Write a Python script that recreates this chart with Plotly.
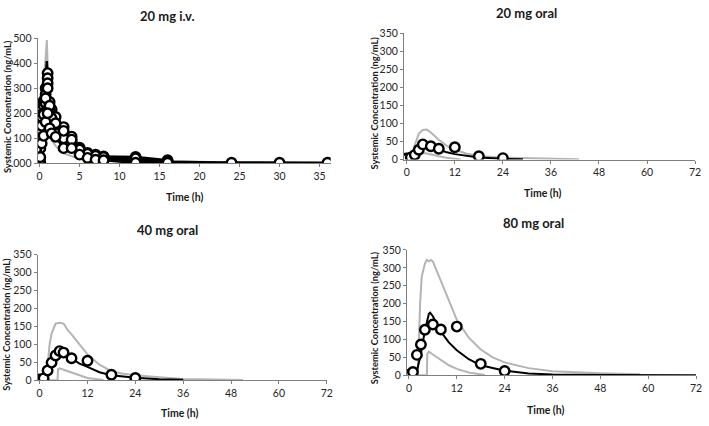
import plotly.graph_objects as go

# ---------------- DATA ----------------
# 20 mg i.v. observed individual profiles
iv_t = [0, 0.08, 0.25, 0.5, 0.75, 1, 1.25, 1.5, 2, 3, 4, 5, 6, 7, 8, 12, 16]
iv_s1 = [0, 150, 195, 250, 300, 360, 245, 215, 185, 145, 107, 63, 42, 35, 28, 26, 13]
iv_s2 = [0, 100, 185, 230, 275, 340, 210, 165, 145, 120, 87, 60, 35, 25, 20, 10, 5]
iv_s3 = [0, 60, 130, 200, 240, 320, 190, 150, 120, 100, 80, 50, 30, 20, 15, 5, 3]
iv_s5 = [0, 5, 150, 195, 260, 300, 230, 180, 160, 130, 95, 55, 38, 30, 25, 20, 8]
iv_t4 = [0, 0.08, 0.25, 0.5, 0.75, 1, 1.25, 1.5, 2, 3, 4, 5, 6, 7, 8, 12, 16, 24, 30, 36]
iv_s4 = [0, 25, 80, 110, 165, 200, 140, 120, 106, 61, 61, 35, 22, 15, 13, 3, 3, 3, 3, 3]
# 20 mg i.v. simulated median and percentiles
iv_pt = [0, 0.25, 0.5, 0.75, 0.9, 1.1, 1.5, 2, 3, 4, 6, 8, 12, 16, 24, 36]
iv_med = [0, 150, 250, 330, 408, 250, 190, 150, 110, 80, 45, 28, 14, 7, 3, 1]
iv_up = [0, 200, 330, 420, 492, 300, 210, 160, 115, 85, 50, 32, 18, 10, 4, 1]
iv_lo_t = [0, 0.25, 0.5, 0.9, 1.1, 1.4, 2, 3, 4.2, 6, 8.8, 12, 16]
iv_lo = [0, 50, 100, 180, 130, 98, 70, 40, 27, 20, 14, 8, 4]

# 20 mg oral
o20_t = [0, 1, 2, 3, 4, 6, 8, 12, 18, 24]
o20_obs = [3, 6, 13, 27, 42, 37, 30, 34, 9, 4]
o20_mt = [0, 1, 2, 3, 4, 5, 6, 8, 10, 12, 15, 18, 24, 29]
o20_med = [0, 3, 15, 32, 42, 40, 36, 28, 20, 15, 10, 6, 2, 0.5]
o20_ut = [0, 1, 2, 3, 4, 5, 6, 8, 10, 12, 15, 18, 24, 30, 36, 43]
o20_up = [0, 5, 40, 72, 82, 83, 75, 55, 38, 27, 16, 10, 5, 3, 1.5, 0.5]
o20_lt = [0, 1.9, 3, 4, 5, 6, 8, 10, 12, 13.5]
o20_lo = [0, 0, 12, 18, 17, 14, 9, 5, 2, 0]

# 40 mg oral
o40_t = [0, 1, 2, 3, 4, 5, 6, 8, 12, 18, 24]
o40_obs = [2, 5, 27, 49, 69, 81, 77, 61, 54, 15, 6]
o40_mt = [0, 1, 2, 3, 4, 5, 6, 7, 8, 10, 12, 15, 18, 21, 24, 30, 36]
o40_med = [0, 3, 22, 48, 70, 84, 78, 68, 60, 46, 37, 22, 14, 10, 7, 2.5, 1]
o40_ut = [0, 1.5, 2, 2.5, 3, 4, 5, 6, 6.5, 7, 8, 9, 10, 12, 15, 18, 21, 24, 27, 30, 36, 51]
o40_up = [0, 0, 40, 100, 130, 158, 160, 158, 150, 140, 128, 113, 100, 72, 43, 25, 18, 14, 10, 8, 3, 0.5]
o40_lt = [0, 4.5, 4.6, 5, 6, 7, 8, 10, 12, 14, 16]
o40_lo = [0, 0, 30, 33, 29, 25, 20, 12, 6, 3, 0.5]

# 80 mg oral
o80_t = [0, 1, 2, 3, 4, 6, 8, 12, 18, 24]
o80_obs = [2, 9, 57, 86, 127, 142, 128, 136, 32, 12]
o80_mt = [0, 1, 2, 3, 4, 5, 5.3, 6, 8, 10, 12, 15, 18, 24, 30, 36, 48, 72]
o80_med = [0, 1, 12, 60, 125, 172, 175, 165, 122, 92, 70, 45, 28, 13, 5, 2, 0.5, 0]
o80_ut = [0, 2.2, 2.8, 3.2, 4, 4.5, 5, 5.5, 6, 7, 8, 10, 12, 15, 18, 21, 24, 30, 36, 48, 58]
o80_up = [0, 0, 200, 275, 312, 322, 318, 322, 318, 290, 265, 210, 155, 105, 72, 50, 36, 20, 11, 6, 3]
o80_lt = [0, 4.5, 4.6, 5, 6, 8, 10, 12, 15, 19]
o80_lo = [0, 0, 60, 66, 58, 42, 28, 18, 8, 1]

titles = ["20 mg i.v.", "20 mg oral", "40 mg oral", "80 mg oral"]
ytitle = "Systemic Concentration (ng/mL)"
xtitle = "Time (h)"

# ---------------- FIGURE ----------------
W, H = 709, 426
GRAY = "#b4b4b4"
FONT = "Lato"

fig = go.Figure()


def px_x(p):
    return p / W


def px_y(p):
    return 1 - p / H


def add_line(x, y, ax, color, width):
    fig.add_trace(go.Scatter(x=x, y=y, mode="lines", xaxis=ax[0], yaxis=ax[1],
                             line=dict(color=color, width=width), showlegend=False,
                             hoverinfo="skip"))


def add_obs(x, y, ax, lines=False):
    fig.add_trace(go.Scatter(x=x, y=y, mode="lines+markers" if lines else "markers",
                             xaxis=ax[0], yaxis=ax[1],
                             line=dict(color="black", width=2.5),
                             marker=dict(size=9.5, color="white", line=dict(color="black", width=2.4)),
                             showlegend=False))


ax1, ax2, ax3, ax4 = ("x", "y"), ("x2", "y2"), ("x3", "y3"), ("x4", "y4")

# Panel 1
add_line(iv_pt, iv_up, ax1, GRAY, 2)
add_line(iv_lo_t, iv_lo, ax1, GRAY, 2)
add_line(iv_pt, iv_med, ax1, "black", 2.5)
for s in (iv_s1, iv_s2, iv_s3, iv_s5):
    add_obs(iv_t, s, ax1, lines=True)
add_obs(iv_t4, iv_s4, ax1, lines=True)

# Panel 2
add_line(o20_ut, o20_up, ax2, GRAY, 2)
add_line(o20_lt, o20_lo, ax2, GRAY, 2)
add_line(o20_mt, o20_med, ax2, "black", 2)
add_obs(o20_t, o20_obs, ax2)

# Panel 3
add_line(o40_ut, o40_up, ax3, GRAY, 2)
add_line(o40_lt, o40_lo, ax3, GRAY, 2)
add_line(o40_mt, o40_med, ax3, "black", 2)
add_obs(o40_t, o40_obs, ax3)

# Panel 4
add_line(o80_ut, o80_up, ax4, GRAY, 2)
add_line(o80_lt, o80_lo, ax4, GRAY, 2)
add_line(o80_mt, o80_med, ax4, "black", 2)
add_obs(o80_t, o80_obs, ax4)

tickfont = dict(family=FONT, size=10.5, color="#262626")
axcommon = dict(showgrid=False, zeroline=False, showline=True, linecolor="#7f7f7f",
                linewidth=1, ticks="outside", ticklen=3, tickcolor="#7f7f7f",
                tickfont=tickfont)

panels = [
    dict(xd=(37, 333), yd=(33, 162), xr=[-0.25, 36.4], xt=list(range(0, 36, 5)),
         yr=[0, 500], yt=list(range(0, 501, 100)), yl=["000", "100", "200", "300", "400", "500"]),
    dict(xd=(407, 701), yd=(28, 158), xr=[-0.7, 72], xt=list(range(0, 73, 12)),
         yr=[0, 350], yt=list(range(0, 351, 50)), yl=None),
    dict(xd=(37, 329), yd=(256, 385), xr=[-0.5, 72], xt=list(range(0, 73, 12)),
         yr=[0, 350], yt=list(range(0, 351, 50)), yl=None),
    dict(xd=(410, 702), yd=(251, 380), xr=[-0.5, 72], xt=list(range(0, 73, 12)),
         yr=[0, 350], yt=list(range(0, 351, 50)), yl=None),
]

layout = dict(width=W, height=H, margin=dict(l=0, r=0, t=0, b=0),
              paper_bgcolor="white", plot_bgcolor="white", showlegend=False)
for i, p in enumerate(panels):
    n = "" if i == 0 else str(i + 1)
    xa = dict(axcommon, domain=[px_x(p["xd"][0]), px_x(p["xd"][1])], range=p["xr"],
              tickvals=p["xt"], anchor="y" + n)
    ya = dict(axcommon, domain=[px_y(p["yd"][1]), px_y(p["yd"][0])], range=p["yr"],
              tickvals=p["yt"], anchor="x" + n)
    if p["yl"]:
        ya["ticktext"] = p["yl"]
    layout["xaxis" + n] = xa
    layout["yaxis" + n] = ya

fig.update_layout(**layout)

ann = []
title_pos = [(168, 10), (531, 7), (168, 230), (538, 223)]
xt_pos = [(185, 197), (547, 192), (180, 419), (550, 416)]
yt_pos = [(6, 103), (377, 100), (6, 327), (378, 321)]
for i in range(4):
    ann.append(dict(text="<b>%s</b>" % titles[i], x=px_x(title_pos[i][0]), y=px_y(title_pos[i][1]),
                    xref="paper", yref="paper", showarrow=False, xanchor="center", yanchor="middle",
                    font=dict(family=FONT, size=13, color="#1a1a1a")))
    ann.append(dict(text="<b>%s</b>" % xtitle, x=px_x(xt_pos[i][0]), y=px_y(xt_pos[i][1]),
                    xref="paper", yref="paper", showarrow=False, xanchor="center", yanchor="middle",
                    font=dict(family=FONT, size=10.5, color="#1a1a1a")))
    ann.append(dict(text="<b>%s</b>" % ytitle, x=px_x(yt_pos[i][0]), y=px_y(yt_pos[i][1]),
                    xref="paper", yref="paper", showarrow=False, xanchor="center", yanchor="middle",
                    textangle=-90, font=dict(family=FONT, size=9.3, color="#1a1a1a")))
fig.update_layout(annotations=ann)

fig.write_html("out.html", config={"displayModeBar": False},
               post_script="document.body.style.margin='0';document.body.style.overflow='hidden';")
